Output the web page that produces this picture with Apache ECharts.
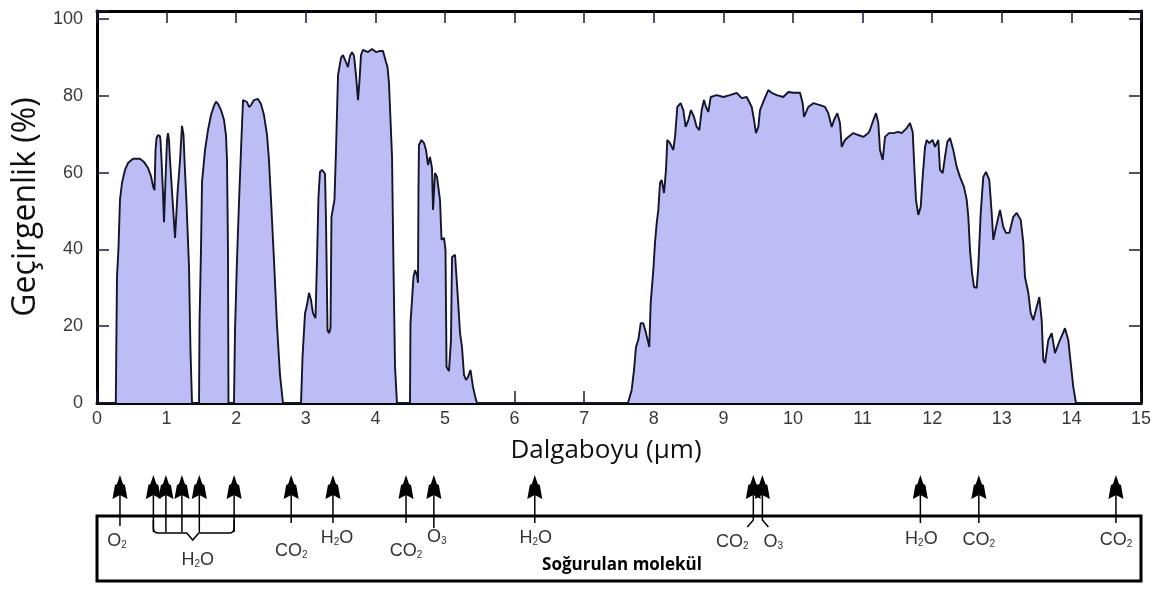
<!DOCTYPE html>
<html>
<head>
<meta charset="utf-8">
<script src="https://cdn.jsdelivr.net/npm/echarts@6/dist/echarts.min.js"></script>
<style>
  html, body { margin: 0; padding: 0; background: #fff; }
  #chart { width: 1170px; height: 590px; }
</style>
</head>
<body>
<div id="chart"></div>
<script>
// Atmospheric transmittance windows: [wavelength µm, transmittance %]
const win1 = [[0,0],[0.27,0],[0.287,32.8],[0.309,40.4],[0.33,52.9],[0.359,57.3],[0.402,60.7],[0.445,62.5],[0.517,63.6],[0.618,63.6],[0.675,62.8],[0.733,61.2],[0.776,59.1],[0.805,56.5],[0.826,55.4],[0.841,65.9],[0.855,69.0],[0.876,69.8],[0.905,69.5],[0.912,68.5],[0.927,63.3],[0.948,54.7],[0.963,47.1],[0.984,58.1],[1.006,68.5],[1.02,70.3],[1.034,68.5],[1.049,63.3],[1.078,55.0],[1.121,43.0],[1.157,54.7],[1.193,63.3],[1.221,72.2],[1.243,69.8],[1.257,63.3],[1.286,52.1],[1.322,35.4],[1.343,13.8],[1.365,0]];
const win2 = [[1.466,0],[1.473,20.8],[1.494,39.9],[1.509,57.6],[1.552,65.9],[1.595,71.1],[1.638,75.0],[1.681,77.4],[1.71,78.5],[1.739,77.9],[1.782,76.3],[1.825,73.7],[1.853,69.8],[1.868,63.3],[1.882,39.9],[1.889,0]];
const win3 = [[1.968,0],[1.983,19.0],[2.011,37.2],[2.04,52.1],[2.069,65.9],[2.098,78.9],[2.126,79.4],[2.155,78.4],[2.184,77.1],[2.213,77.6],[2.256,78.9],[2.313,79.2],[2.356,77.9],[2.399,75.0],[2.443,69.8],[2.471,63.3],[2.5,52.9],[2.543,37.2],[2.586,20.3],[2.629,7.3],[2.672,0]];
const win4 = [[2.931,0],[2.953,12.0],[2.989,23.4],[3.017,25.5],[3.046,28.7],[3.075,26.8],[3.103,23.4],[3.139,22.1],[3.161,37.2],[3.182,53.7],[3.204,60.2],[3.233,60.7],[3.276,59.7],[3.29,47.7],[3.312,19.0],[3.333,18.2],[3.355,19.5],[3.369,48.5],[3.391,50.8],[3.412,52.9],[3.434,65.9],[3.463,85.4],[3.506,89.9],[3.534,90.6],[3.578,88.8],[3.606,87.5],[3.635,90.4],[3.664,91.4],[3.693,90.4],[3.721,85.4],[3.75,78.9],[3.772,84.1],[3.793,90.6],[3.822,92.0],[3.894,91.4],[3.951,92.2],[4.009,91.4],[4.066,91.7],[4.109,91.7],[4.152,88.8],[4.174,87.5],[4.195,83.4],[4.239,64.1],[4.26,35.4],[4.282,9.4],[4.31,0]];
const win5 = [[4.497,0],[4.504,20.8],[4.526,26.8],[4.547,32.8],[4.569,34.6],[4.598,33.3],[4.612,31.3],[4.619,55.5],[4.626,67.2],[4.662,68.5],[4.698,67.7],[4.727,65.9],[4.756,62.0],[4.784,64.1],[4.813,61.2],[4.828,50.3],[4.856,59.9],[4.885,58.9],[4.928,52.9],[4.95,42.5],[4.986,43.0],[5.007,39.9],[5.022,9.4],[5.057,8.3],[5.086,16.4],[5.101,38.0],[5.144,38.6],[5.187,26.8],[5.216,18.2],[5.244,14.6],[5.273,7.3],[5.302,6.0],[5.33,6.8],[5.366,8.6],[5.402,4.2],[5.445,0.8],[5.46,0]];
const win6 = [[7.629,0],[7.682,3.4],[7.716,8.6],[7.744,14.6],[7.777,16.4],[7.812,20.8],[7.849,20.8],[7.888,18.2],[7.935,14.6],[7.955,26.0],[7.993,34.6],[8.017,41.7],[8.042,46.9],[8.065,50.3],[8.089,57.3],[8.113,58.1],[8.147,54.7],[8.175,60.7],[8.194,68.5],[8.233,67.7],[8.28,65.9],[8.305,69.3],[8.338,77.1],[8.386,78.1],[8.424,76.3],[8.458,71.9],[8.496,73.7],[8.534,76.3],[8.578,74.5],[8.616,71.9],[8.654,71.1],[8.688,76.3],[8.721,78.9],[8.75,77.1],[8.783,75.8],[8.818,79.7],[8.904,80.2],[8.999,79.7],[9.095,80.2],[9.191,80.8],[9.263,79.4],[9.335,79.7],[9.407,77.1],[9.44,73.7],[9.468,70.3],[9.502,71.9],[9.526,76.3],[9.583,78.9],[9.645,81.5],[9.694,80.8],[9.766,80.2],[9.861,79.7],[9.933,81.0],[10.004,80.8],[10.101,80.8],[10.139,78.1],[10.158,74.5],[10.22,77.1],[10.292,78.1],[10.388,77.6],[10.46,77.1],[10.507,75.5],[10.556,71.9],[10.589,73.7],[10.637,75.5],[10.675,72.9],[10.7,66.7],[10.747,68.5],[10.795,69.3],[10.867,70.3],[10.938,69.8],[11.01,69.3],[11.082,70.3],[11.106,71.1],[11.154,73.7],[11.193,75.5],[11.226,72.9],[11.25,65.9],[11.289,63.3],[11.322,69.3],[11.379,70.3],[11.441,70.3],[11.513,70.6],[11.562,70.3],[11.634,71.6],[11.681,72.9],[11.72,70.6],[11.743,61.5],[11.767,52.9],[11.8,49.0],[11.835,51.1],[11.863,58.9],[11.897,66.7],[11.921,68.5],[11.958,67.7],[12.007,68.5],[12.04,66.7],[12.088,68.5],[12.112,60.7],[12.151,59.9],[12.184,64.1],[12.217,68.0],[12.256,69.0],[12.303,65.9],[12.352,61.5],[12.399,58.9],[12.457,56.3],[12.496,52.9],[12.519,48.5],[12.543,39.9],[12.572,33.9],[12.601,30.2],[12.639,30.0],[12.662,35.4],[12.697,49.5],[12.734,58.9],[12.773,60.2],[12.82,58.1],[12.855,49.5],[12.878,42.5],[12.917,45.8],[12.974,50.3],[13.022,45.8],[13.06,44.3],[13.108,44.3],[13.165,48.5],[13.214,49.5],[13.272,47.7],[13.309,41.7],[13.333,32.8],[13.381,28.7],[13.415,23.4],[13.453,21.6],[13.501,25.0],[13.539,27.6],[13.573,21.6],[13.596,11.2],[13.621,10.4],[13.668,16.4],[13.717,18.2],[13.764,13.0],[13.836,16.4],[13.908,19.5],[13.955,16.4],[13.99,10.4],[14.027,4.2],[14.066,0],[15,0]];

// Absorption lines (µm) and the molecule that causes each one
const lineWl  = [0.33, 0.81, 0.99, 1.22, 1.47, 1.97, 2.79, 3.39, 4.44, 4.84, 6.29, 9.43, 9.56, 11.83, 12.67, 14.64];
const lineMol = ['O2', 'H2O', 'H2O', 'H2O', 'H2O', 'H2O', 'CO2', 'H2O', 'CO2', 'O3', 'H2O', 'CO2', 'O3', 'H2O', 'CO2', 'CO2'];
// lines 1..5 share one water-vapour brace
const waterGroup = [1, 5];

const xTicks = [0, 15, 1];         // min, max, step (µm)
const yTicks = [0, 20];            // min, step (%)

const FILL = '#bdbdf6';
const INK = '#15152a';
const TICK_FONT = '"Liberation Sans", Arial, sans-serif';
const TITLE_FONT = '"Open Sans", sans-serif';

// label placement under each arrow: [dx, dy from box top, shaft depth, bend]
const labelPlace = [
  [-3, 25, 10, 0], null, null, null, null, null,
  [0, 35, 7, 0], [4, 22, 7, 0], [0, 35, 7, 0], [3, 21, 12, 0],
  [1, 22, 7, 0], [-21, 26, 8, -6], [11, 26, 8, 6],
  [1, 23, 7, 0], [0, 24, 7, 0], [0, 24, 7, 0]
];

function chem(s) {
  // 'H2O' -> rich text with subscripted digits
  return s.replace(/([A-Za-z]+)|(\d+)/g, (m, a, d) => a ? '{n|' + a + '}' : '{s|' + d + '}');
}
const chemRich = {
  n: { fontSize: 18, fontFamily: TICK_FONT, fill: '#333', color: '#333' },
  s: { fontSize: 10, fontFamily: TICK_FONT, fill: '#333', color: '#333', padding: [8, 0, 0, 0] }
};

const spectrum = [].concat(win1, win2, win3, win4, win5, win6);

const chart = echarts.init(document.getElementById('chart'), null, { renderer: 'canvas' });

const axisLineStyle = { show: true, onZero: false, lineStyle: { color: '#000', width: 3 } };
const tickStyle = { show: true, inside: true, length: 12, lineStyle: { color: '#1a1a3a', width: 1.5 } };

chart.setOption({
  animation: false,
  backgroundColor: '#fff',
  grid: [
    { left: 97, right: 29, top: 11, bottom: 187 },
    { left: 97, right: 29, top: 516, bottom: 9, show: true, borderColor: '#000', borderWidth: 3, backgroundColor: 'transparent' }
  ],
  xAxis: [
    {
      gridIndex: 0, type: 'value', position: 'bottom',
      min: xTicks[0], max: xTicks[1], interval: xTicks[2],
      axisLine: axisLineStyle, axisTick: tickStyle, splitLine: { show: false },
      axisLabel: { margin: 7, fontFamily: TICK_FONT, fontSize: 18, color: '#3a3a3a' },
      name: 'Dalgaboyu (µm)', nameLocation: 'middle', nameGap: 35,
      nameTextStyle: { fontFamily: TITLE_FONT, fontSize: 26, color: '#111', padding: [0, 26, 0, 0] }
    },
    {
      gridIndex: 0, type: 'value', position: 'top',
      min: xTicks[0], max: xTicks[1], interval: xTicks[2],
      axisLine: axisLineStyle, axisTick: tickStyle, axisLabel: { show: false }, splitLine: { show: false }
    },
    { gridIndex: 1, type: 'value', min: xTicks[0], max: xTicks[1], show: false }
  ],
  yAxis: [
    {
      gridIndex: 0, type: 'value', position: 'left',
      min: yTicks[0], max: 102.1, interval: yTicks[1],
      axisLine: axisLineStyle, axisTick: tickStyle, splitLine: { show: false },
      axisLabel: {
        margin: 14, fontFamily: TICK_FONT, fontSize: 18, color: '#3a3a3a',
        formatter: v => (v % 20 === 0 ? String(v) : '')
      },
      name: 'Geçirgenlik (%)', nameLocation: 'middle', nameGap: 53, nameRotate: 90,
      nameTextStyle: { fontFamily: TITLE_FONT, fontSize: 32, color: '#111' }
    },
    {
      gridIndex: 0, type: 'value', position: 'right',
      min: yTicks[0], max: 102.1, interval: yTicks[1],
      axisLine: axisLineStyle, axisTick: tickStyle, axisLabel: { show: false }, splitLine: { show: false }
    },
    { gridIndex: 1, type: 'value', min: 0, max: 1, show: false }
  ],
  graphic: [
    {
      type: 'text', x: 622, y: 565, z: 10,
      style: {
        text: 'Soğurulan molekül', fill: '#000',
        font: '700 17px "Open Sans", sans-serif',
        align: 'center', verticalAlign: 'middle', textAlign: 'center', textVerticalAlign: 'middle'
      }
    }
  ],
  series: [
    {
      type: 'line', xAxisIndex: 0, yAxisIndex: 0,
      data: spectrum, showSymbol: false, symbol: 'none',
      lineStyle: { color: INK, width: 1.9 },
      areaStyle: { color: FILL, opacity: 1 },
      z: 2
    },
    {
      // absorption arrows with molecule labels
      type: 'custom', xAxisIndex: 2, yAxisIndex: 2, clip: false, z: 5,
      data: lineWl.map(v => [v]),
      renderItem(params, api) {
        const i = params.dataIndex;
        const p = api.coord([api.value(0), 1]);
        const x = p[0], yBox = p[1];
        const tip = yBox - 41;
        const inGroup = i >= waterGroup[0] && i <= waterGroup[1];
        const place = labelPlace[i];
        const depth = inGroup ? 16 : place[2];
        const bend = inGroup ? 0 : place[3];
        const children = [
          {
            type: 'polygon',
            shape: { points: [[x, tip], [x - 3, tip + 9], [x - 5, tip + 10], [x - 7.5, tip + 24], [x, tip + 20], [x + 7.5, tip + 24], [x + 5, tip + 10], [x + 3, tip + 9]] },
            style: { fill: '#000' }
          },
          {
            type: 'polyline',
            shape: { points: bend ? [[x, tip + 20], [x, yBox + depth - 4], [x + bend, yBox + depth + 3]] : [[x, tip + 20], [x, yBox + depth]] },
            style: { stroke: '#000', lineWidth: 1.5, fill: null }
          }
        ];
        if (!inGroup) {
          children.push({
            type: 'text',
            style: {
              text: chem(lineMol[i]), rich: chemRich,
              x: x + place[0], y: yBox + place[1],
              align: 'center', verticalAlign: 'middle'
            }
          });
        }
        return { type: 'group', children };
      }
    },
    {
      // brace gathering the near-infrared water-vapour lines
      type: 'custom', xAxisIndex: 2, yAxisIndex: 2, clip: false, z: 5,
      data: [[lineWl[waterGroup[0]], lineWl[waterGroup[1]]]],
      renderItem(params, api) {
        const a = api.coord([api.value(0), 1]);
        const b = api.coord([api.value(1), 1]);
        const y0 = a[1] + 4, yb = a[1] + 17, r = 5;
        const xm = (a[0] + b[0]) / 2 - 1;
        const path =
          'M' + a[0] + ',' + y0 + ' L' + a[0] + ',' + (yb - r) +
          ' Q' + a[0] + ',' + yb + ' ' + (a[0] + r) + ',' + yb +
          ' L' + (xm - 6) + ',' + yb + ' L' + xm + ',' + (yb + 7) + ' L' + (xm + 6) + ',' + yb +
          ' L' + (b[0] - r) + ',' + yb +
          ' Q' + b[0] + ',' + yb + ' ' + b[0] + ',' + (yb - r) +
          ' L' + b[0] + ',' + y0;
        return {
          type: 'group',
          children: [
            { type: 'path', shape: { pathData: path }, style: { stroke: '#000', lineWidth: 1.5, fill: null } },
            {
              type: 'text',
              style: {
                text: chem('H2O'), rich: chemRich,
                x: xm + 5, y: a[1] + 44, align: 'center', verticalAlign: 'middle'
              }
            }
          ]
        };
      }
    }
  ]
});
</script>
</body>
</html>
